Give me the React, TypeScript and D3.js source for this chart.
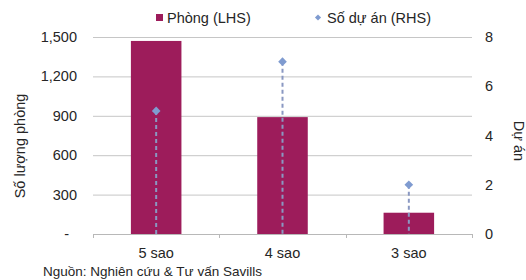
import * as d3 from 'd3';
import React, { useRef, useEffect } from 'react';

const categories = ['5 sao', '4 sao', '3 sao'];
const rooms = [1470, 890, 162];
const projects = [5, 7, 2];
const leftTicks = [0, 300, 600, 900, 1200, 1500];
const rightTicks = [0, 2, 4, 6, 8];

const W = 526;
const H = 280;
const FONT = '"Liberation Sans", Arial, sans-serif';
const BAR = '#9d1c5b';
const DOT = '#7f9bd0';

function App() {
  const ref = useRef<SVGSVGElement>(null);

  useEffect(() => {
    const svg = d3.select(ref.current);
    svg.selectAll('*').remove();

    const left = 93, right = 472, top = 37, bottom = 234;

    const x = d3.scaleBand().domain(categories).range([left, right]).padding(0);
    const yL = d3.scaleLinear().domain([0, 1500]).range([bottom, top]);
    const yR = d3.scaleLinear().domain([0, 8]).range([bottom, top]);

    // gridlines
    svg.selectAll('line.grid')
      .data(leftTicks.slice(1))
      .enter()
      .append('line')
      .attr('x1', left).attr('x2', right)
      .attr('y1', (d) => yL(d) + 0.5).attr('y2', (d) => yL(d) + 0.5)
      .attr('stroke', '#c6c6c6').attr('stroke-width', 1);

    // bars
    const bw = x.bandwidth() * 0.4;
    svg.selectAll('rect.bar')
      .data(rooms)
      .enter()
      .append('rect')
      .attr('x', (d, i) => x(categories[i])! + (x.bandwidth() - bw) / 2)
      .attr('y', (d) => yL(d))
      .attr('width', bw)
      .attr('height', (d) => bottom - yL(d))
      .attr('fill', BAR);

    // x axis line + ticks
    svg.append('line')
      .attr('x1', left).attr('x2', right)
      .attr('y1', bottom + 0.5).attr('y2', bottom + 0.5)
      .attr('stroke', '#b8b8b8');
    const bounds = [...categories.map((c) => x(c)!), right];
    svg.selectAll('line.xt')
      .data(bounds)
      .enter()
      .append('line')
      .attr('x1', (d) => Math.round(d) + 0.5).attr('x2', (d) => Math.round(d) + 0.5)
      .attr('y1', bottom).attr('y2', bottom + 4)
      .attr('stroke', '#b8b8b8');

    // drop lines and diamonds
    const cx = (i: number) => x(categories[i])! + x.bandwidth() / 2;
    svg.selectAll('line.drop')
      .data(projects)
      .enter()
      .append('line')
      .attr('x1', (d, i) => cx(i)).attr('x2', (d, i) => cx(i))
      .attr('y1', (d) => yR(d)).attr('y2', bottom)
      .attr('stroke', '#8a98c2').attr('stroke-width', 2)
      .attr('stroke-dasharray', '4,3');
    const diamond = d3.symbol().type(d3.symbolDiamond2).size(48);
    svg.selectAll('path.pt')
      .data(projects)
      .enter()
      .append('path')
      .attr('d', diamond)
      .attr('transform', (d, i) => `translate(${cx(i)},${yR(d)})`)
      .attr('fill', DOT);

    const text = (s: string, tx: number, ty: number, anchor: string, size = 14.5) =>
      svg.append('text')
        .attr('x', tx).attr('y', ty)
        .attr('text-anchor', anchor)
        .attr('font-family', FONT)
        .attr('font-size', size)
        .attr('fill', '#262626')
        .text(s);

    // left ticks
    leftTicks.forEach((t) => {
      if (t === 0) text('-', 69, yL(t) + 5, 'end');
      else text(d3.format(',')(t), 77, yL(t) + 5, 'end');
    });
    // right ticks
    rightTicks.forEach((t) => text(String(t), 485, yR(t) + 5, 'start'));

    // category labels
    categories.forEach((c) => text(c, x(c)! + x.bandwidth() / 2, 258, 'middle'));

    // axis titles
    text('Số lượng phòng', 0, 0, 'middle')
      .attr('transform', `translate(25,146) rotate(-90)`);
    text('Dự án', 0, 0, 'middle')
      .attr('transform', `translate(514,141) rotate(90)`);

    // legend
    svg.append('rect').attr('x', 156).attr('y', 14).attr('width', 7).attr('height', 7).attr('fill', BAR);
    text('Phòng (LHS)', 167, 23, 'start');
    svg.append('path')
      .attr('d', d3.symbol().type(d3.symbolDiamond2).size(24))
      .attr('transform', 'translate(318,17.5)')
      .attr('fill', DOT);
    text('Số dự án (RHS)', 327, 23, 'start');

    // source
    text('Nguồn: Nghiên cứu & Tư vấn Savills', 43, 276, 'start', 13.5);
  }, []);

  return (
    <div>
      <svg ref={ref} width={W} height={H}
        style={{ position: 'absolute', left: 0, top: 0, background: '#fff' }} />
    </div>
  );
}

export default App;
